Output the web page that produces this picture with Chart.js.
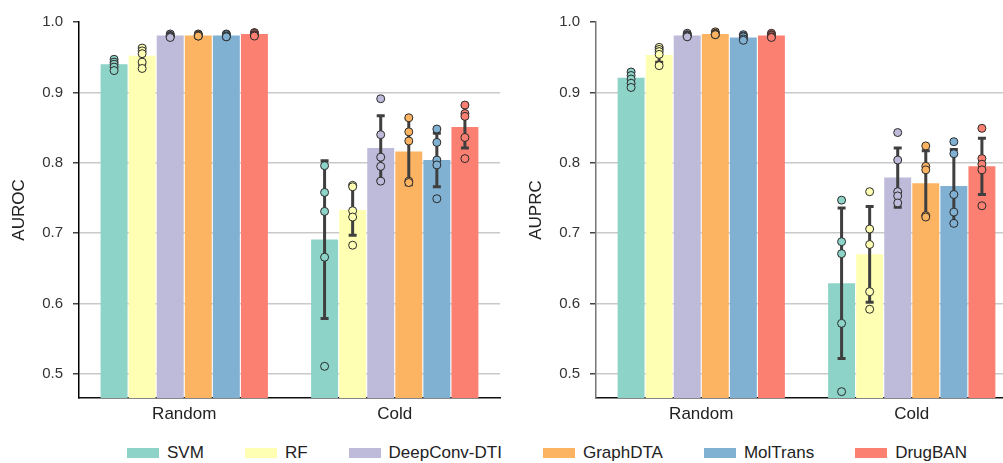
<!DOCTYPE html>
<html>
<head>
<meta charset="utf-8">
<script src="https://cdn.jsdelivr.net/npm/chart.js@4.4.0/dist/chart.umd.min.js"></script>
<style>
html, body { margin: 0; padding: 0; background: #fff; overflow: hidden; }
body { width: 1003px; height: 463px; position: relative; font-family: "Liberation Sans", Arial, sans-serif; }
#c1 { position: absolute; left: 0; top: 0; }
#c2 { position: absolute; left: 517px; top: 0; }
#legend { position: absolute; left: 0; top: 443px; width: 1094px; display: flex; justify-content: center; gap: 41px; font-size: 17px; color: #222; }
#legend .item { display: flex; align-items: center; white-space: nowrap; }
#legend .box { display: inline-block; width: 32px; height: 10px; margin-right: 8px; }
</style>
</head>
<body>
<canvas id="c1" width="505" height="430"></canvas>
<canvas id="c2" width="505" height="430"></canvas>
<div id="legend"></div>
<script>
// categories and series
var groups = ['Random', 'Cold'];
var models = ['SVM', 'RF', 'DeepConv-DTI', 'GraphDTA', 'MolTrans', 'DrugBAN'];
var colors = ['#8dd3c7', '#ffffb3', '#bebada', '#fdb462', '#80b1d3', '#fb8072'];
var yTicks = [0.5, 0.6, 0.7, 0.8, 0.9, 1.0];

// AUROC, one value per model
var aurocRandomMean = [0.940, 0.952, 0.981, 0.981, 0.981, 0.983];
var aurocColdMean   = [0.691, 0.733, 0.821, 0.816, 0.804, 0.851];
var aurocRandomSd   = [0.006, 0.012, 0.002, 0.002, 0.002, 0.002];
var aurocColdSd     = [0.112, 0.036, 0.046, 0.047, 0.038, 0.030];
var aurocRandomRuns = [
    [0.947, 0.943, 0.940, 0.936, 0.931],
    [0.963, 0.959, 0.955, 0.943, 0.934],
    [0.983, 0.981, 0.980, 0.979, 0.978],
    [0.983, 0.982, 0.981, 0.980, 0.980],
    [0.983, 0.982, 0.980, 0.979, 0.979],
    [0.985, 0.984, 0.982, 0.981, 0.980]
];
var aurocColdRuns = [
    [0.796, 0.758, 0.731, 0.666, 0.511],
    [0.768, 0.766, 0.732, 0.723, 0.683],
    [0.891, 0.840, 0.808, 0.795, 0.774],
    [0.864, 0.844, 0.831, 0.774, 0.772],
    [0.848, 0.829, 0.804, 0.797, 0.749],
    [0.882, 0.870, 0.866, 0.836, 0.806]
];

// AUPRC
var auprcRandomMean = [0.921, 0.953, 0.981, 0.983, 0.978, 0.981];
var auprcColdMean   = [0.629, 0.670, 0.779, 0.771, 0.767, 0.795];
var auprcRandomSd   = [0.009, 0.010, 0.002, 0.002, 0.003, 0.002];
var auprcColdSd     = [0.107, 0.068, 0.042, 0.046, 0.052, 0.040];
var auprcRandomRuns = [
    [0.929, 0.924, 0.919, 0.913, 0.907],
    [0.964, 0.961, 0.958, 0.954, 0.938],
    [0.984, 0.982, 0.981, 0.980, 0.979],
    [0.986, 0.984, 0.983, 0.982, 0.982],
    [0.982, 0.980, 0.979, 0.976, 0.974],
    [0.984, 0.982, 0.981, 0.979, 0.978]
];
var auprcColdRuns = [
    [0.747, 0.688, 0.671, 0.572, 0.475],
    [0.759, 0.706, 0.684, 0.617, 0.592],
    [0.843, 0.804, 0.759, 0.753, 0.743],
    [0.824, 0.795, 0.790, 0.725, 0.723],
    [0.830, 0.813, 0.755, 0.730, 0.714],
    [0.849, 0.806, 0.798, 0.790, 0.739]
];

// error bars + individual runs on top of each bar
var overlay = {
    id: 'overlay',
    afterDatasetsDraw: function(chart) {
        var ctx = chart.ctx;
        var y = chart.scales.y;
        chart.data.datasets.forEach(function(ds, i) {
            var meta = chart.getDatasetMeta(i);
            meta.data.forEach(function(bar, j) {
                var m = ds.data[j], s = ds.sd[j], x = bar.x;
                var yTop = y.getPixelForValue(m + s), yBot = y.getPixelForValue(m - s);
                ctx.save();
                ctx.strokeStyle = '#3f3f3f';
                ctx.lineWidth = 3;
                ctx.beginPath();
                ctx.moveTo(x, yTop); ctx.lineTo(x, yBot);
                ctx.moveTo(x - 4, yTop); ctx.lineTo(x + 4, yTop);
                ctx.moveTo(x - 4, yBot); ctx.lineTo(x + 4, yBot);
                ctx.stroke();
                ds.runs[j].forEach(function(v) {
                    ctx.beginPath();
                    ctx.arc(x, y.getPixelForValue(v), 4, 0, Math.PI * 2);
                    ctx.fillStyle = ds.backgroundColor;
                    ctx.fill();
                    ctx.lineWidth = 1;
                    ctx.strokeStyle = '#2a2a2a';
                    ctx.stroke();
                });
                ctx.restore();
            });
        });
    }
};

function drawPanel(id, title, randMean, coldMean, randSd, coldSd, randRuns, coldRuns, axisColor) {
    var datasets = models.map(function(name, i) {
        return {
            label: name,
            data: [randMean[i], coldMean[i]],
            sd: [randSd[i], coldSd[i]],
            runs: [randRuns[i], coldRuns[i]],
            backgroundColor: colors[i],
            borderWidth: 0,
            categoryPercentage: 0.8,
            barPercentage: 0.96
        };
    });

    return new Chart(document.getElementById(id), {
        type: 'bar',
        data: { labels: groups, datasets: datasets },
        plugins: [overlay],
        options: {
            responsive: false,
            animation: false,
            layout: { padding: { top: 22, right: 5, bottom: 0, left: 0 } },
            plugins: { legend: { display: false }, tooltip: { enabled: false } },
            scales: {
                x: {
                    grid: { display: false, drawTicks: false },
                    border: { color: '#111', width: 1.5 },
                    ticks: { color: '#222', font: { size: 17, family: 'Liberation Sans' }, padding: 6 },
                    afterFit: function(s) { s.height = 32; }
                },
                y: {
                    min: 0.466,
                    max: 1.0,
                    afterBuildTicks: function(s) {
                        s.ticks = yTicks.map(function(v) { return { value: v }; });
                    },
                    afterFit: function(s) { s.width = 79; },
                    border: { color: axisColor, width: 1.5 },
                    grid: {
                        color: function(c) { return c.tick && c.tick.value === 1 ? 'rgba(0,0,0,0)' : '#c9c9c9'; },
                        lineWidth: 1.5,
                        tickColor: '#444',
                        tickLength: 6
                    },
                    ticks: {
                        color: '#333',
                        padding: 10,
                        font: { size: 15, family: 'Liberation Sans' },
                        callback: function(v) { return v.toFixed(1); }
                    },
                    title: {
                        display: true,
                        text: title,
                        color: '#222',
                        font: { size: 17, family: 'Liberation Sans' },
                        padding: { top: 9, bottom: 0 }
                    }
                }
            }
        }
    });
}

drawPanel('c1', 'AUROC', aurocRandomMean, aurocColdMean, aurocRandomSd, aurocColdSd, aurocRandomRuns, aurocColdRuns, '#000');
drawPanel('c2', 'AUPRC', auprcRandomMean, auprcColdMean, auprcRandomSd, auprcColdSd, auprcRandomRuns, auprcColdRuns, '#777');

// shared legend
var legend = document.getElementById('legend');
models.forEach(function(name, i) {
    var item = document.createElement('div');
    item.className = 'item';
    var box = document.createElement('span');
    box.className = 'box';
    box.style.background = colors[i];
    item.appendChild(box);
    item.appendChild(document.createTextNode(name));
    legend.appendChild(item);
});
</script>
</body>
</html>
